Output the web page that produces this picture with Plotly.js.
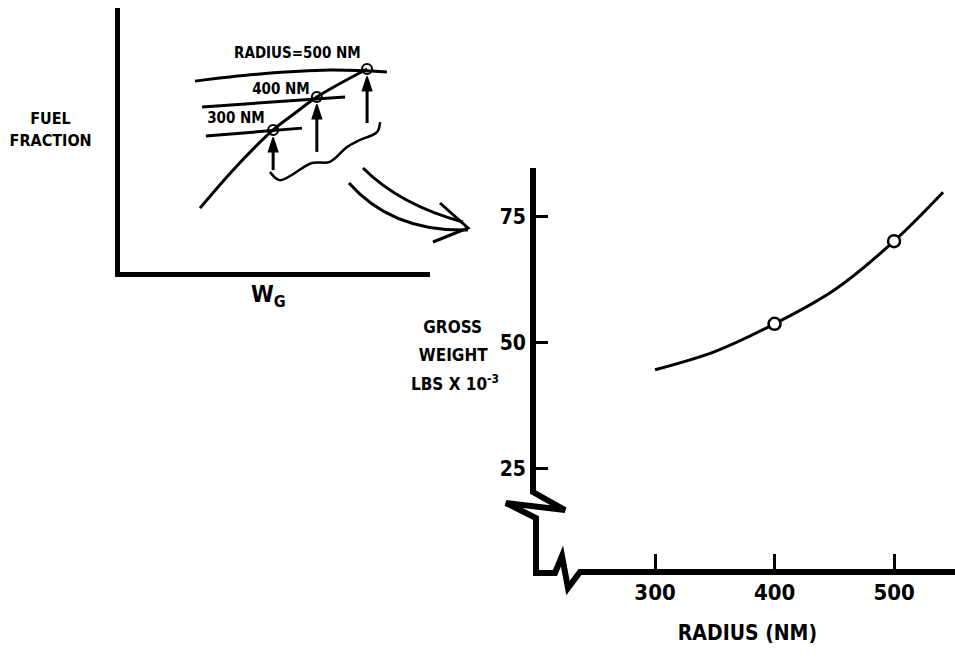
<!DOCTYPE html>
<html>
<head>
<meta charset="utf-8">
<script src="https://cdn.plot.ly/plotly-3.0.1.min.js"></script>
<style>
html,body{margin:0;padding:0;background:#fff;}
#chart{width:955px;height:659px;}
#chart text{font-stretch:condensed !important;}
</style>
</head>
<body>
<div id="chart"></div>
<script>
// ---- Main chart data: gross weight vs radius ----
var radius = [300, 350, 400, 450, 500, 541];
var grossWeight = [44.7, 48.3, 53.8, 60.5, 70.2, 79.9];
var markedRadius = [400, 500];
var markedWeight = [53.8, 70.2];
var xTickVals = [300, 400, 500];
var xTickText = ["300", "400", "500"];
var yTickVals = [25, 50, 75];
var yTickText = ["25", "50", "75"];

// ---- Inset schematic (fuel fraction vs W_G, arbitrary units) ----
var wgCurveX = [2.58, 3.74, 4.94, 5.65, 6.35, 7.97];
var wgCurveY = [2.42, 3.98, 5.38, 6.02, 6.63, 7.69];
var r500X = [2.42, 4.52, 6.77, 8.61];
var r500Y = [7.23, 7.50, 7.65, 7.58];
var r400X = [2.65, 7.26];
var r400Y = [6.25, 6.63];
var r300X = [2.77, 5.87];
var r300Y = [5.15, 5.45];
var hitX = [4.94, 6.35, 7.97];
var hitY = [5.38, 6.63, 7.69];
var arrowTailY = [3.86, 4.55, 5.64];
var arrowHeadY = [5.10, 6.35, 7.41];
var bracketX = [4.84, 5.16, 6.19, 6.77, 7.32, 7.74, 8.29, 8.39];
var bracketY = [3.79, 3.48, 4.13, 4.17, 4.73, 5.00, 5.30, 5.68];
var insetLabels = ["RADIUS=500 NM", "400 NM", "300 NM"];
var insetLabelX = [5.74, 5.19, 3.74];
var insetLabelY = [8.30, 6.93, 5.83];

var W = 955, H = 659;
function px(x){ return x / W; }
function py(y){ return 1 - y / H; }
function P(x, y){ return px(x).toFixed(5) + "," + py(y).toFixed(5); }

var FONT = "DejaVu Sans, sans-serif";

var traces = [
  {x: radius, y: grossWeight, mode: "lines", line: {color: "#000", width: 3, shape: "spline"},
   xaxis: "x", yaxis: "y", hoverinfo: "skip"},
  {x: markedRadius, y: markedWeight, mode: "markers",
   marker: {symbol: "circle", size: 12, color: "#fff", line: {color: "#000", width: 2.5}},
   xaxis: "x", yaxis: "y", hoverinfo: "skip"},
  {x: wgCurveX, y: wgCurveY, mode: "lines", line: {color: "#000", width: 3, shape: "spline"},
   xaxis: "x2", yaxis: "y2", hoverinfo: "skip"},
  {x: r500X, y: r500Y, mode: "lines", line: {color: "#000", width: 3, shape: "spline"},
   xaxis: "x2", yaxis: "y2", hoverinfo: "skip"},
  {x: r400X, y: r400Y, mode: "lines", line: {color: "#000", width: 3},
   xaxis: "x2", yaxis: "y2", hoverinfo: "skip"},
  {x: r300X, y: r300Y, mode: "lines", line: {color: "#000", width: 3},
   xaxis: "x2", yaxis: "y2", hoverinfo: "skip"},
  {x: bracketX, y: bracketY, mode: "lines", line: {color: "#000", width: 2.5, shape: "spline"},
   xaxis: "x2", yaxis: "y2", hoverinfo: "skip"},
  {x: hitX, y: hitY, mode: "markers",
   marker: {symbol: "circle-open", size: 10, color: "#000", line: {width: 2}},
   xaxis: "x2", yaxis: "y2", hoverinfo: "skip"}
];
for (var i = 0; i < hitX.length; i++) {
  traces.push({x: [hitX[i], hitX[i]], y: [arrowTailY[i], arrowHeadY[i]], mode: "lines+markers",
    line: {color: "#000", width: 3},
    marker: {symbol: "arrow", angleref: "previous", size: [0, 15], color: "#000", opacity: 1,
             line: {color: "#000", width: 1.5}},
    xaxis: "x2", yaxis: "y2", hoverinfo: "skip"});
}

function txt(x, y, text, size){
  return {x: px(x), y: py(y), xref: "paper", yref: "paper", xanchor: "center", yanchor: "middle",
    showarrow: false, text: text, font: {family: FONT, size: size, color: "#000", weight: "bold"}};
}
var annotations = [];
for (var j = 0; j < insetLabels.length; j++) {
  annotations.push({x: insetLabelX[j], y: insetLabelY[j], xref: "x2", yref: "y2",
    xanchor: "center", yanchor: "middle", text: insetLabels[j], showarrow: false,
    font: {family: FONT, size: 15, color: "#000", weight: "bold"}});
}
annotations.push(txt(50, 118, "FUEL", 16));
annotations.push(txt(50, 140, "FRACTION", 16));
annotations.push(txt(268, 296, "W<sub>G</sub>", 23));
annotations.push(txt(452, 327, "GROSS", 17));
annotations.push(txt(453, 355, "WEIGHT", 17));
annotations.push(txt(455, 383, "LBS X 10<sup>-3</sup>", 17));
annotations.push(txt(747, 633, "RADIUS (NM)", 21));

var shapes = [
  // main axes with break marks
  {type: "path", xref: "paper", yref: "paper",
   path: "M" + P(533,168) + " L" + P(533,492) + " L" + P(565,510) + " L" + P(506,503) +
         " L" + P(536,518) + " L" + P(536,573) + " L" + P(555,573) + " L" + P(562,556) +
         " L" + P(568,588) + " L" + P(580,572) + " L" + P(955,572),
   line: {color: "#000", width: 6}},
  // big curved double arrow
  {type: "path", xref: "paper", yref: "paper",
   path: "M" + P(363,168) + " Q" + P(400,205) + " " + P(463,222),
   line: {color: "#000", width: 3}},
  {type: "path", xref: "paper", yref: "paper",
   path: "M" + P(349,183) + " Q" + P(392,232) + " " + P(468,230),
   line: {color: "#000", width: 3}},
  {type: "path", xref: "paper", yref: "paper",
   path: "M" + P(440,203) + " L" + P(468,228) + " L" + P(433,242),
   line: {color: "#000", width: 3}}
];

var layout = {
  width: W, height: H,
  margin: {l: 0, r: 0, t: 0, b: 0, pad: 0},
  paper_bgcolor: "#fff", plot_bgcolor: "rgba(0,0,0,0)",
  showlegend: false,
  xaxis: {domain: [px(533), 1], range: [197.9, 551], showline: false, zeroline: false,
    showgrid: false, tickmode: "array", tickvals: xTickVals, ticktext: xTickText,
    ticks: "inside", ticklen: 17, tickwidth: 3, tickcolor: "#000", ticklabelstandoff: 6,
    tickfont: {family: FONT, size: 22, color: "#000", weight: "bold"}, fixedrange: true},
  yaxis: {domain: [1 - 571 / H, 1 - 168 / H], range: [4.76, 84.72], showline: false,
    zeroline: false, showgrid: false, tickmode: "array", tickvals: yTickVals, ticktext: yTickText,
    ticks: "inside", ticklen: 15, tickwidth: 3, tickcolor: "#000", ticklabelstandoff: 6,
    tickfont: {family: FONT, size: 21, color: "#000", weight: "bold"}, fixedrange: true},
  xaxis2: {domain: [px(120), px(430)], range: [0, 10], anchor: "y2", showline: true,
    linewidth: 5, linecolor: "#000", showticklabels: false, ticks: "", showgrid: false,
    zeroline: false, fixedrange: true},
  yaxis2: {domain: [1 - 272 / H, 1 - 8 / H], range: [0, 10], anchor: "x2", showline: true,
    linewidth: 5, linecolor: "#000", showticklabels: false, ticks: "", showgrid: false,
    zeroline: false, fixedrange: true},
  annotations: annotations,
  shapes: shapes
};

Plotly.newPlot("chart", traces, layout, {displayModeBar: false, staticPlot: true});
</script>
</body>
</html>
